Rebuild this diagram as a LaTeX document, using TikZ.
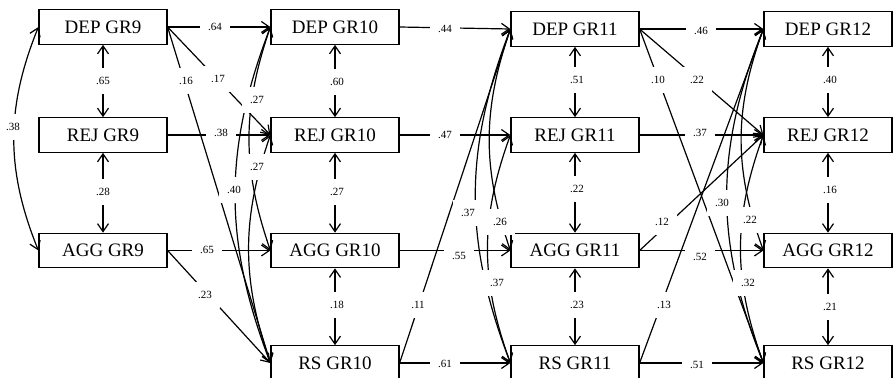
\documentclass[tikz,border=0pt]{standalone}
\usepackage{fontspec}
\setmainfont{Liberation Serif}
\usetikzlibrary{arrows.meta}
\begin{document}
\begin{tikzpicture}[x=1pt,y=-1pt,
  varbox/.style={draw, line width=1.2pt, minimum width=128pt, minimum height=34.5pt,
    inner sep=0pt, font=\fontsize{19}{21}\selectfont},
  regarrow/.style={line width=1.2pt, -{Straight Barb[length=8pt,width=11pt]}},
  covarrow/.style={line width=1.2pt,
    {Straight Barb[length=8pt,width=11pt]}-{Straight Barb[length=8pt,width=11pt]}},
  coef/.style={fill=white, inner xsep=8pt, inner ysep=9pt, font=\fontsize{11}{12}\selectfont}
]
\useasboundingbox (0,0) rectangle (893,377);
\fill[white] (0,0) rectangle (893,377);
\clip (0,0) rectangle (893,377);

% Grade 9
\node[varbox] (D9) at (103,27) {DEP GR9};
\node[varbox] (R9) at (103,135) {REJ GR9};
\node[varbox] (A9) at (103,250.5) {AGG GR9};
% Grade 10
\node[varbox] (D10) at (335,27) {DEP GR10};
\node[varbox] (R10) at (335,135) {REJ GR10};
\node[varbox] (A10) at (335,250.5) {AGG GR10};
\node[varbox] (S10) at (335,363) {RS GR10};
% Grade 11
\node[varbox] (D11) at (575,29) {DEP GR11};
\node[varbox] (R11) at (575,135) {REJ GR11};
\node[varbox] (A11) at (575,250.5) {AGG GR11};
\node[varbox] (S11) at (575,363) {RS GR11};
% Grade 12
\node[varbox] (D12) at (828,29) {DEP GR12};
\node[varbox] (R12) at (828,135) {REJ GR12};
\node[varbox] (A12) at (828,250.5) {AGG GR12};
\node[varbox] (S12) at (828,363) {RS GR12};

% within-wave covariances: adjacent boxes
\draw[covarrow] (D9.south) -- (R9.north);
\draw[covarrow] (R9.south) -- (A9.north);
\draw[covarrow] (D10.south) -- (R10.north);
\draw[covarrow] (R10.south) -- (A10.north);
\draw[covarrow] (A10.south) -- (S10.north);
\draw[covarrow] (D11.south) -- (R11.north);
\draw[covarrow] (R11.south) -- (A11.north);
\draw[covarrow] (A11.south) -- (S11.north);
\draw[covarrow] (D12.south) -- (R12.north);
\draw[covarrow] (R12.south) -- (A12.north);
\draw[covarrow] (A12.south) -- (S12.north);

% within-wave covariances: curved, on the left
\draw[covarrow] (D9.west) to[bend right=22] (A9.west);
\draw[covarrow] (D10.west) to[bend right=19] (A10.west);
\draw[covarrow] (R10.west) to[bend right=19] (S10.west);
\draw[covarrow] (D10.west) to[bend right=21] (S10.west);
\draw[covarrow] (D11.west) to[bend right=19] (A11.west);
\draw[covarrow] (R11.west) to[bend right=20] (S11.west);
\draw[covarrow] (D11.west) to[bend right=21] (S11.west);
\draw[covarrow] (D12.west) to[bend right=20] (A12.west);
\draw[covarrow] (R12.west) to[bend right=20] (S12.west);
\draw[covarrow] (D12.west) to[bend right=22] (S12.west);

% paths grade 9 -> grade 10
\draw[regarrow] (D9.east) -- (D10.west);
\draw[regarrow] (D9.east) -- (R10.west);
\draw[regarrow] (D9.east) -- (S10.west);
\draw[regarrow] (R9.east) -- (R10.west);
\draw[regarrow] (A9.east) -- (A10.west);
\draw[regarrow] (A9.east) -- (S10.west);
% paths grade 10 -> grade 11
\draw[regarrow] (D10.east) -- (D11.west);
\draw[regarrow] (R10.east) -- (R11.west);
\draw[regarrow] (A10.east) -- (A11.west);
\draw[regarrow] (S10.east) -- (S11.west);
\draw[regarrow] (S10.east) -- (D11.west);
% paths grade 11 -> grade 12
\draw[regarrow] (D11.east) -- (D12.west);
\draw[regarrow] (D11.east) -- (R12.west);
\draw[regarrow] (D11.east) -- (S12.west);
\draw[regarrow] (R11.east) -- (R12.west);
\draw[regarrow] (A11.east) -- (A12.west);
\draw[regarrow] (A11.east) -- (R12.west);
\draw[regarrow] (S11.east) -- (D12.west);
\draw[regarrow] (S11.east) -- (S12.west);

% coefficients
\node[coef] (c1) at (215,27) {.64};
\node[coef] (c2) at (218,79) {.17};
\node[coef] (c3) at (186,81) {.16};
\node[coef] (c4) at (221,133) {.38};
\node[coef] (c5) at (207,250) {.65};
\node[coef] (c6) at (205,295) {.23};
\node[coef] (c7) at (103,81) {.65};
\node[coef] (c8) at (103,192) {.28};
\node[coef] (c9) at (13,127) {.38};
\node[coef] (c10) at (257,100) {.27};
\node[coef] (c11) at (257,167) {.27};
\node[coef] (c12) at (234,190) {.40};
\node[coef] (c13) at (337,82) {.60};
\node[coef] (c14) at (337,192) {.27};
\node[coef] (c15) at (337,305) {.18};
\node[coef] (c16) at (445,29) {.44};
\node[coef] (c17) at (445,135) {.47};
\node[coef] (c18) at (459,256) {.55};
\node[coef] (c19) at (445,364) {.61};
\node[coef] (c20) at (418,305) {.11};
\node[coef] (c21) at (468,213) {.37};
\node[coef] (c22) at (500,222) {.26};
\node[coef] (c23) at (497,283) {.37};
\node[coef] (c24) at (577,80) {.51};
\node[coef] (c25) at (577,189) {.22};
\node[coef] (c26) at (577,305) {.23};
\node[coef] (c27) at (701,31) {.46};
\node[coef] (c28) at (658,80) {.10};
\node[coef] (c29) at (697,80) {.22};
\node[coef] (c30) at (700,133) {.37};
\node[coef] (c31) at (662,222) {.12};
\node[coef] (c32) at (700,257) {.52};
\node[coef] (c33) at (664,305) {.13};
\node[coef] (c34) at (697,365) {.51};
\node[coef] (c35) at (722,203) {.30};
\node[coef] (c36) at (750,220) {.22};
\node[coef] (c37) at (748,283) {.32};
\node[coef] (c38) at (830,80) {.40};
\node[coef] (c39) at (830,190) {.16};
\node[coef] (c40) at (830,307) {.21};
\end{tikzpicture}
\end{document}
